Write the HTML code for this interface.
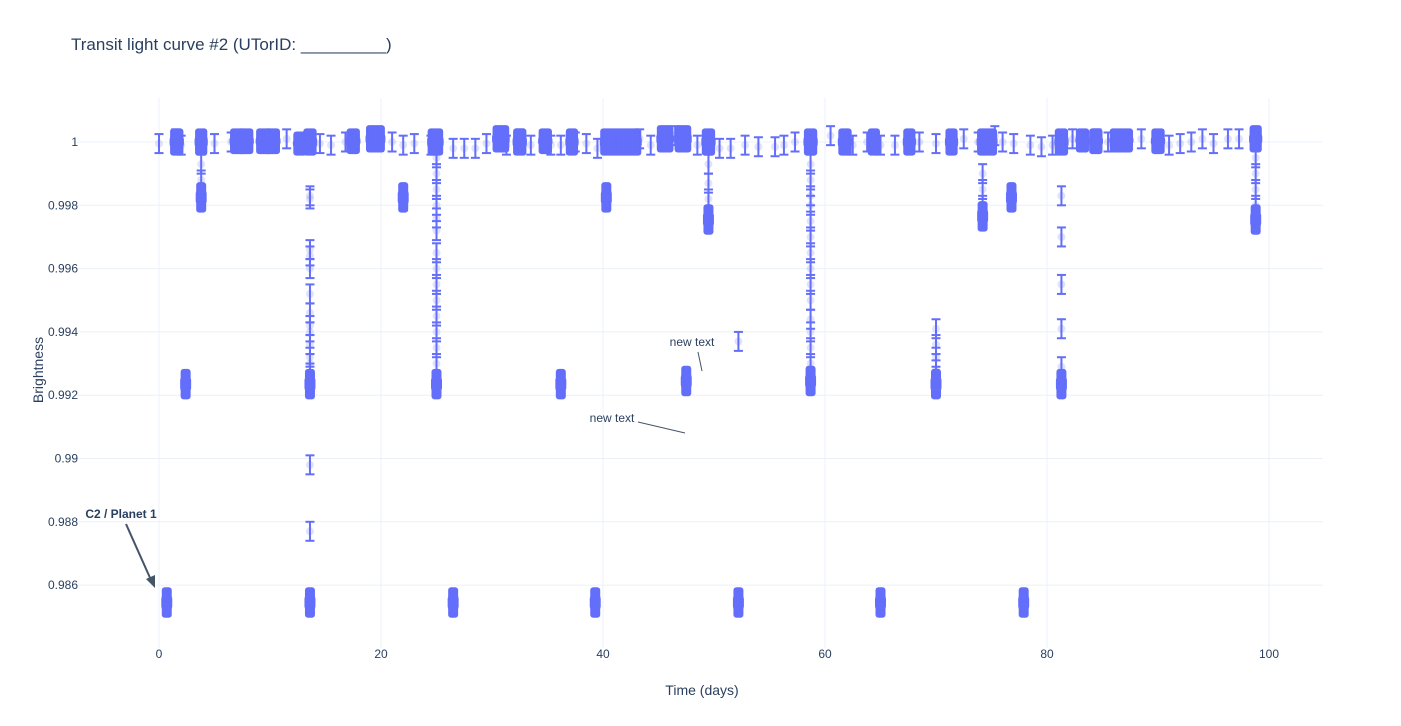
<!DOCTYPE html>
<html><head><meta charset="utf-8">
<style>
body{margin:0;background:#fff;font-family:"Liberation Sans",sans-serif;}
svg text{font-family:"Liberation Sans",sans-serif;}
</style></head>
<body>
<svg id="chart" width="1401" height="721">
  <rect width="1401" height="721" fill="#fff"/>
  <text x="71" y="50" font-size="17" fill="#2a3f5f">Transit light curve #2 (UTorID: _________)</text>
  <g id="grid"></g>
  <g id="ticks"></g>
  <g id="marks"></g>
  <text x="702" y="695" font-size="14" fill="#2a3f5f" text-anchor="middle">Time (days)</text>
  <text x="43" y="370" font-size="14" fill="#2a3f5f" text-anchor="middle" transform="rotate(-90 43 370)">Brightness</text>
  <g>
    <text x="121" y="518" font-size="12" font-weight="bold" fill="#2a3f5f" text-anchor="middle">C2 / Planet 1</text>
    <line x1="126" y1="524" x2="151" y2="580" stroke="#445469" stroke-width="2"/>
    <polygon points="155,588 146,579 155,575" fill="#445469"/>
  </g>
  <g>
    <text x="692" y="346" font-size="12" fill="#2a3f5f" text-anchor="middle">new text</text>
    <line x1="698" y1="352" x2="702" y2="371" stroke="#445469" stroke-width="1"/>
  </g>
  <g>
    <text x="612" y="422" font-size="12" fill="#2a3f5f" text-anchor="middle">new text</text>
    <line x1="638" y1="422" x2="685" y2="433" stroke="#445469" stroke-width="1"/>
  </g>
</svg>
<script>
const xTicks=[0,20,40,60,80,100];
const yTicks=[0.986,0.988,0.99,0.992,0.994,0.996,0.998,1];
const yTickLabels=["0.986","0.988","0.99","0.992","0.994","0.996","0.998","1"];
const errHalf=0.0003;
const baseT=[0,1.5,2,5,6.5,11.5,14.5,15.5,16.8,21,22,23,24.5,26.5,27.5,28.5,29.5,31.3,32.5,33.5,35.3,36.2,37.5,38.5,39.5,43.3,44.3,46.5,48.5,50.5,51.5,52.8,54,55.5,56.3,57.3,60.5,62.5,63.8,65,66.3,68.5,70,72.5,73.8,75.3,76,77,78.5,79.5,80.5,82.3,84.5,85.5,88.5,91,92,93,94,95,96.3,97.3];
const baseV=[0.99995,1.0001,0.9999,0.99995,1.0,1.0001,0.99995,0.9999,1.0,1.0,0.9999,0.99995,0.9999,0.9998,0.9998,0.9998,0.99995,0.9999,1.0001,0.9999,0.9999,0.9999,1.0,0.99995,0.9998,1.0001,0.9999,1.0002,0.9999,0.9998,0.9998,0.9999,0.99985,0.99985,0.9999,1.0,1.0002,0.9999,1.0,0.9999,0.9999,1.0,0.99995,1.0001,1.0,1.0002,1.0,0.99995,0.9999,0.99985,0.9999,1.0001,1.0001,1.0,1.0001,0.9999,0.99995,1.0,1.0001,0.99995,1.0001,1.0001];
const transT=[3.8,3.8,
13.6,13.6,13.6,13.6,13.6,13.6,13.6,13.6,13.6,13.6,13.6,13.6,13.6,13.6,13.6,
25,25,25,25,25,25,25,25,25,25,25,25,25,25,
49.5,49.5,49.5,52.2,
58.7,58.7,58.7,58.7,58.7,58.7,58.7,58.7,58.7,58.7,58.7,58.7,58.7,58.7,
70,70,70,70,
74.2,74.2,74.2,
81.3,81.3,81.3,81.3,81.3,
98.8,98.8,98.8,98.8];
const transV=[0.9993,0.9988,
0.9983,0.9982,0.9966,0.9964,0.996,0.9952,0.9946,0.9942,0.994,0.9936,0.9932,0.993,0.9927,0.9898,0.9877,
0.9995,0.999,0.9985,0.998,0.9976,0.9972,0.9965,0.996,0.9955,0.995,0.9945,0.994,0.9935,0.993,
0.9993,0.9987,0.9982,0.9937,
0.9993,0.9988,0.9983,0.998,0.9975,0.997,0.9965,0.996,0.9955,0.995,0.9944,0.994,0.9935,0.993,
0.9941,0.9936,0.9932,0.9928,
0.999,0.9985,0.998,
0.9983,0.997,0.9955,0.9941,0.9929,
0.9995,0.999,0.9985,0.998];
// dense clusters: centre time, value range (lo..hi), time spread
const clusterT=[0.7,13.6,26.5,39.3,52.2,65,77.9,
2.4,13.6,25,36.2,47.5,58.7,70,81.3,
3.8,22,40.3,76.8,74.2,49.5,98.8,
1.6,3.8,7.1,7.8,9.5,10.2,12.7,13.6,17.5,19.5,24.9,30.8,32.5,34.8,37.2,40.7,42.3,45.6,47.2,49.5,58.7,61.8,64.4,67.6,71.4,74.6,81.3,83.2,84.4,86.7,90,98.8];
const clusterLo=[0.9853,0.9853,0.9853,0.9853,0.9853,0.9853,0.9853,
0.9922,0.9922,0.9922,0.9922,0.9923,0.9923,0.9922,0.9922,
0.9981,0.9981,0.9981,0.9981,0.9975,0.9974,0.9974,
0.9999,0.9999,0.99995,0.99995,0.99995,0.99995,0.9999,0.9999,0.99995,1.0,0.9999,1.0,0.9999,0.99995,0.9999,0.9999,0.9999,1.0,1.0,0.9999,0.9999,0.9999,0.9999,0.9999,0.9999,0.9999,0.9999,1.0,0.99995,1.0,0.99995,1.0];
const clusterHi=[0.9856,0.9856,0.9856,0.9856,0.9856,0.9856,0.9856,
0.9925,0.9925,0.9925,0.9925,0.9926,0.9926,0.9925,0.9925,
0.9984,0.9984,0.9984,0.9984,0.9978,0.9977,0.9977,
1.0001,1.0001,1.0001,1.0001,1.0001,1.0001,1.0,1.0001,1.0001,1.0002,1.0001,1.0002,1.0001,1.0001,1.0001,1.0001,1.0001,1.0002,1.0002,1.0001,1.0001,1.0001,1.0001,1.0001,1.0001,1.0001,1.0001,1.0001,1.0001,1.0001,1.0001,1.0002];
const clusterW=[0,0,0,0,0,0,0, 0,0,0,0,0,0,0,0, 0,0,0,0,0,0,0,
0.3,0.2,0.5,0.5,0.6,0.5,0.3,0.3,0.3,0.8,0.5,0.6,0.3,0.3,0.2,1.0,1.4,0.6,0.6,0.3,0.3,0.3,0.2,0.2,0.2,0.9,0.3,0.3,0.3,1.2,0.3,0.2];

const NS="http://www.w3.org/2000/svg";
function xS(t){return 159+t*11.1;}
function yS(v){return 142+(1-v)*31650;}
const grid=document.getElementById('grid'),ticks=document.getElementById('ticks'),marks=document.getElementById('marks');
function mk(tag,attrs,parent){const e=document.createElementNS(NS,tag);for(const k in attrs)e.setAttribute(k,attrs[k]);parent.appendChild(e);return e;}
xTicks.forEach(t=>{
  const l=mk('line',{x1:xS(t),x2:xS(t),y1:98,y2:648,stroke:'#ebf0f8','stroke-width':1},grid);
  
  
  const tx=mk('text',{x:xS(t),y:658,'font-size':12,fill:'#2a3f5f','text-anchor':'middle'},ticks);
  tx.textContent=t;
  
  
});
yTicks.forEach((v,i)=>{
  const l=mk('line',{x1:77,x2:1323,y1:yS(v),y2:yS(v),stroke:'#ebf0f8','stroke-width':1},grid);
  
  
  const tx=mk('text',{x:78,y:yS(v)+4,'font-size':12,fill:'#2a3f5f','text-anchor':'end'},ticks);
  tx.textContent=yTickLabels[i];
  
  
});
function point(t,v,parent){
  const g=mk('g',{},parent||marks);
  
  
  const x=xS(t),y1=yS(v+errHalf),y2=yS(v-errHalf);
  mk('circle',{cx:x,cy:yS(v),r:4,fill:'#636efa','fill-opacity':0.2},g);
  mk('line',{x1:x,x2:x,y1:y1,y2:y2,stroke:'#636efa','stroke-width':2},g);
  mk('line',{x1:x-4.5,x2:x+4.5,y1:y1,y2:y1,stroke:'#636efa','stroke-width':2},g);
  mk('line',{x1:x-4.5,x2:x+4.5,y1:y2,y2:y2,stroke:'#636efa','stroke-width':2},g);
}
function cluster(t,lo,hi,w){
  const g=mk('g',{},marks);
  
  
  const x0=xS(t-w/2),x1=xS(t+w/2),ya=yS(hi+errHalf),yb=yS(lo-errHalf);
  const yc1=yS(hi),yc2=yS(lo);
  // solid body of overlapping error bars
  mk('rect',{x:x0-5,y:ya-1,width:x1-x0+10,height:(yb-ya)+2,rx:3,fill:'#636efa'},g);
  mk('rect',{x:x0-5.5,y:yc1-3,width:x1-x0+11,height:Math.max(6,yc2-yc1+6),rx:4,fill:'#636efa'},g);
  mk('rect',{x:x0-3,y:ya,width:x1-x0+6,height:yb-ya,fill:'#636efa'},g);
}
baseT.forEach((t,i)=>point(t,baseV[i]));
transT.forEach((t,i)=>point(t,transV[i]));
clusterT.forEach((t,i)=>cluster(t,clusterLo[i],clusterHi[i],clusterW[i]));
</script>
</body></html>
